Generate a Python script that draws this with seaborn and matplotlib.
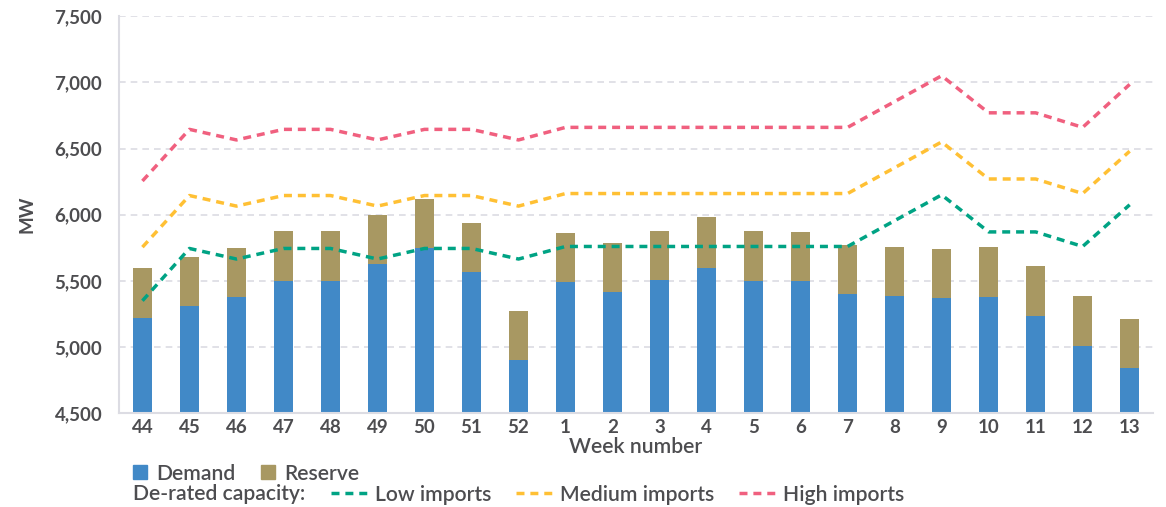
import numpy as np
import pandas as pd
import seaborn as sns
import matplotlib.pyplot as plt
from matplotlib.lines import Line2D
from matplotlib.patches import Patch

#week labels
WEEKS = ['44', '45', '46', '47', '48', '49', '50', '51', '52', '1', '2', '3',
         '4', '5', '6', '7', '8', '9', '10', '11', '12', '13']

#bar values (MW)
DEMAND = [5220, 5310, 5380, 5500, 5500, 5625, 5750, 5565, 4900, 5490, 5415,
          5505, 5600, 5500, 5500, 5400, 5385, 5370, 5380, 5235, 5005, 4840]
TOTAL = [5600, 5680, 5750, 5880, 5880, 6000, 6120, 5940, 5270, 5860, 5790,
         5880, 5980, 5880, 5870, 5770, 5755, 5740, 5755, 5610, 5385, 5210]

#de-rated capacity lines (MW)
LOW = [5350, 5745, 5665, 5745, 5745, 5665, 5745, 5745, 5665, 5760, 5760,
       5760, 5760, 5760, 5760, 5760, 5955, 6150, 5870, 5870, 5760, 6075]
MEDIUM = [5755, 6145, 6065, 6145, 6145, 6065, 6145, 6145, 6065, 6160, 6160,
          6160, 6160, 6160, 6160, 6160, 6355, 6550, 6270, 6270, 6160, 6480]
HIGH = [6255, 6645, 6565, 6645, 6645, 6565, 6645, 6645, 6565, 6660, 6660,
        6660, 6660, 6660, 6660, 6660, 6855, 7050, 6770, 6770, 6660, 6985]

C_DEMAND = '#4189C7'
C_RESERVE = '#A89862'
C_LOW = '#00A384'
C_MED = '#FFC034'
C_HIGH = '#F0607F'
C_TEXT = '#4D4D50'
C_GRID = '#DCDCE3'

FS_TICK = 13.5
FS_TEXT = 15.2

sns.set_style('white')
plt.rcParams['font.family'] = ['Lato', 'DejaVu Sans']
plt.rcParams['text.color'] = C_TEXT
plt.rcParams['axes.labelcolor'] = C_TEXT
plt.rcParams['xtick.color'] = C_TEXT
plt.rcParams['ytick.color'] = C_TEXT

df = pd.DataFrame({'week': WEEKS, 'demand': DEMAND, 'total': TOTAL,
                   'low': LOW, 'medium': MEDIUM, 'high': HIGH})
df['pos'] = np.arange(len(df))

fig = plt.figure(figsize=(11.66, 5.07), dpi=100)
ax = fig.add_axes([0.102, 0.185, 0.887, 0.783])

#stacked bars: total (reserve colour) behind, demand in front
sns.barplot(data=df, x='week', y='total', color=C_RESERVE, width=0.4,
            saturation=1, linewidth=0, ax=ax, zorder=2)
sns.barplot(data=df, x='week', y='demand', color=C_DEMAND, width=0.4,
            saturation=1, linewidth=0, ax=ax, zorder=2)

dash = (0, (2.3, 1.7))
LW = 2.5
for col, c in [('low', C_LOW), ('medium', C_MED), ('high', C_HIGH)]:
    sns.lineplot(data=df, x='pos', y=col, color=c, linewidth=LW,
                 linestyle=dash, ax=ax, zorder=3)

ax.set_ylim(4500, 7500)
ax.set_xlim(-0.5, len(df) - 0.5)
ax.set_yticks(np.arange(4500, 7501, 500))
ax.yaxis.set_major_formatter(plt.FuncFormatter(lambda v, p: f'{int(v):,}'))
ax.set_xticks(df['pos'])
ax.set_xticklabels(WEEKS)
ax.set_xticks(np.arange(-0.5, len(df), 1), minor=True)

ax.grid(axis='y', color=C_GRID, linestyle=(0, (4, 3)), linewidth=1.2, zorder=0)
ax.set_axisbelow(True)
for s in ['top', 'right']:
    ax.spines[s].set_visible(False)
for s in ['left', 'bottom']:
    ax.spines[s].set_color(C_GRID)
    ax.spines[s].set_linewidth(1.5)

ax.tick_params(axis='y', which='major', length=6, width=1.2, color=C_GRID,
               labelsize=FS_TICK, pad=6)
ax.tick_params(axis='x', which='major', length=0, labelsize=FS_TICK, pad=4)
ax.tick_params(axis='x', which='minor', length=6, width=1.2, color=C_GRID)
for lab in ax.get_xticklabels() + ax.get_yticklabels():
    lab.set_fontweight('bold')

ax.set_xlabel('Week number', fontsize=FS_TEXT, fontweight='semibold', labelpad=1)
ax.set_ylabel('MW', fontsize=FS_TICK, fontweight='bold', labelpad=14)

#legends
bar_handles = [Patch(color=C_DEMAND, label='Demand'),
               Patch(color=C_RESERVE, label='Reserve')]
leg1 = fig.legend(handles=bar_handles, loc='center left',
                  bbox_to_anchor=(0.114, 0.066), ncol=2, frameon=False,
                  fontsize=FS_TEXT, handlelength=0.66, handleheight=0.66,
                  handletextpad=0.45, columnspacing=1.2, borderaxespad=0,
                  borderpad=0)

fig.text(0.114, 0.026, 'De-rated capacity:', fontsize=FS_TEXT,
         fontweight='semibold', va='center')
line_handles = [Line2D([], [], color=C_LOW, lw=LW, ls=dash, label='Low imports'),
                Line2D([], [], color=C_MED, lw=LW, ls=dash, label='Medium imports'),
                Line2D([], [], color=C_HIGH, lw=LW, ls=dash, label='High imports')]
leg2 = fig.legend(handles=line_handles, loc='center left',
                  bbox_to_anchor=(0.284, 0.024), ncol=3, frameon=False,
                  fontsize=FS_TEXT, handlelength=1.7, handletextpad=0.4,
                  columnspacing=1.15, borderaxespad=0, borderpad=0)
for leg in (leg1, leg2):
    for t in leg.get_texts():
        t.set_fontweight('semibold')

fig.savefig('out.png', dpi=100)
